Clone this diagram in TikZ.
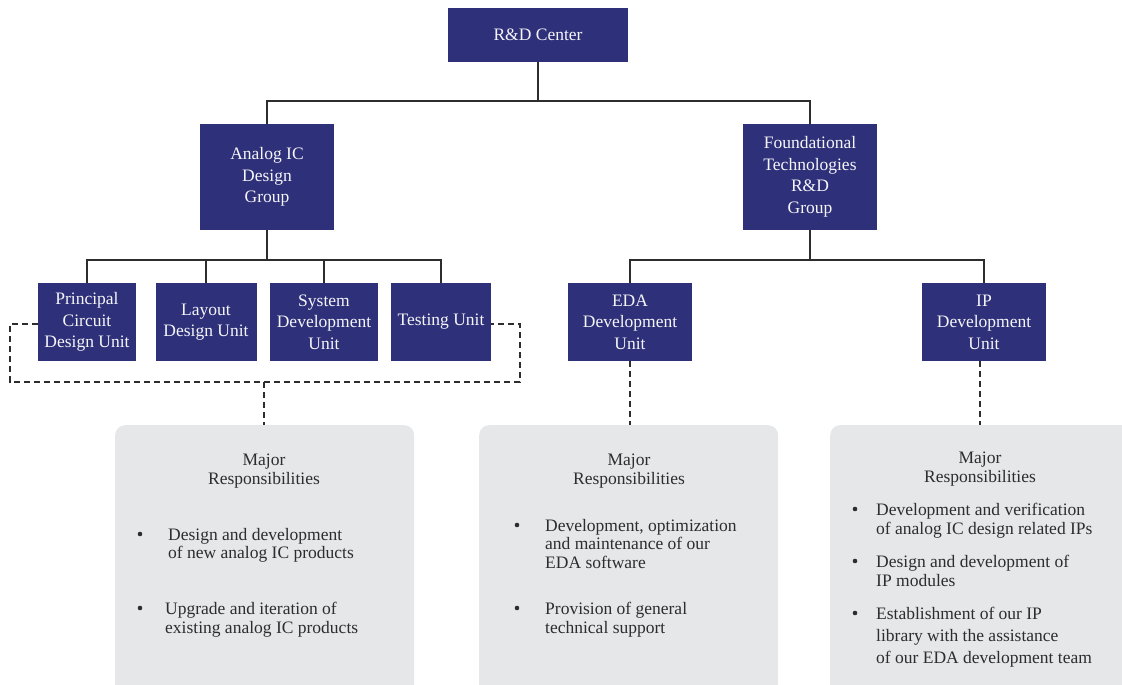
\documentclass[tikz,border=0pt]{standalone}
\usepackage{fontspec}
\setmainfont{Liberation Serif}
\usetikzlibrary{positioning}

\definecolor{navyblue}{RGB}{46,48,121}
\definecolor{panelgray}{RGB}{230,231,233}
\definecolor{inkgray}{RGB}{45,45,45}

\begin{document}
\begin{tikzpicture}[x=1pt,y=-1pt]
        \tikzset{unit/.style = {fill=navyblue,text=white!95!navyblue,align=center,inner sep=0pt,font=\fontsize{17.5}{21.5}\selectfont}}
        \tikzset{link/.style = {draw=inkgray,line width=1.4pt}}
        \tikzset{dots/.style = {draw=inkgray,line width=1.4pt,dash pattern=on 6pt off 4pt}}
        \tikzset{panel/.style = {fill=panelgray,rounded corners=10pt,minimum height=300pt,anchor=north west,inner sep=0pt}}
        \tikzset{duty/.style = {align=left,anchor=north west,inner sep=0pt,text=inkgray,font=\fontsize{17.5}{18.5}\selectfont}}
        \tikzset{dot/.style = {circle,fill=inkgray,minimum size=4.6pt,inner sep=0pt}}
        \clip (0,0) rectangle (1122,685);
        % panels
        \node[panel,minimum width=299pt] (dutyA) at (115,425) {};
        \node[panel,minimum width=299pt] (dutyB) at (479,425) {};
        \node[panel,minimum width=320pt] (dutyC) at (830,425) {};
        % org boxes
        \node[unit,minimum width=180pt,minimum height=54pt] (center) at (538,35) {R\&D Center};
        \node[unit,minimum width=134pt,minimum height=106pt] (analog) at (267,177) {Analog IC\\Design\\Group};
        \node[unit,minimum width=134pt,minimum height=106pt] (found) at (810,177) {Foundational\\Technologies\\R\&D\\Group};
        \node[unit,minimum width=98pt,minimum height=78pt] (principal) at (87,322) {Principal\\Circuit\\Design Unit};
        \node[unit,minimum width=101pt,minimum height=78pt] (layout) at (206,322) {Layout\\Design Unit};
        \node[unit,minimum width=108pt,minimum height=78pt] (system) at (324,322) {System\\Development\\Unit};
        \node[unit,minimum width=100pt,minimum height=78pt] (testing) at (441,322) {Testing Unit};
        \node[unit,minimum width=124pt,minimum height=78pt] (eda) at (630,322) {EDA\\Development\\Unit};
        \node[unit,minimum width=124pt,minimum height=78pt] (ip) at (984,322) {IP\\Development\\Unit};
        % tree lines
        \coordinate (hub) at (538,101);
        \coordinate (abus) at (267,260);
        \coordinate (fbus) at (810,260);
        \draw[link] (center) -- (hub);
        \draw[link] (hub) -| (analog.north);
        \draw[link] (hub) -| (found.north);
        \draw[link] (analog) -- (abus);
        \draw[link] (found) -- (fbus);
        \foreach \u in {principal,layout,system,testing}
                \draw[link] (abus) -| (\u.north);
        \foreach \u in {eda,ip}
                \draw[link] (fbus) -| (\u.north);
        % dashed bracket round the analog units
        \coordinate (brL) at (10,324);
        \coordinate (brR) at (520,324);
        \coordinate (brk) at (264,382);
        \draw[dots] (principal.west |- brL) -- (brL) |- (brk) -| (brR) -- (testing.east |- brR);
        \draw[dots] (brk) -- (brk |- dutyA.north);
        \draw[dots] (eda.south) -- (eda.south |- dutyB.north);
        \draw[dots] ([xshift=-4pt]ip.south) -- ([xshift=-4pt]ip.south |- dutyC.north);
        % responsibilities, analog
        \node[duty,anchor=north,align=center] (headA) at (264,454) {Major\\Responsibilities};
        \node[dot] (bulA1) at (140,534) {};
        \node[duty] (itemA1) at (168,528) {Design and development\\of new analog IC products};
        \node[dot] (bulA2) at (140,608) {};
        \node[duty] (itemA2) at (165,602) {Upgrade and iteration of\\existing analog IC products};
        % responsibilities, EDA
        \node[duty,anchor=north,align=center] (headB) at (629,454) {Major\\Responsibilities};
        \node[dot] (bulB1) at (517,525) {};
        \node[duty] (itemB1) at (545,519) {Development, optimization\\and maintenance of our\\EDA software};
        \node[dot] (bulB2) at (517,608) {};
        \node[duty] (itemB2) at (545,602) {Provision of general\\technical support};
        % responsibilities, IP
        \node[duty,anchor=north,align=center] (headC) at (980,452) {Major\\Responsibilities};
        \node[dot] (bulC1) at (855,509) {};
        \node[duty] (itemC1) at (876,503) {Development and verification\\of analog IC design related IPs};
        \node[dot] (bulC2) at (855,561) {};
        \node[duty] (itemC2) at (876,555) {Design and development of\\IP modules};
        \node[dot] (bulC3) at (855,613) {};
        \node[duty,font=\fontsize{17.5}{22}\selectfont] (itemC3) at (876,607) {Establishment of our IP\\library with the assistance\\of our EDA development team};
\end{tikzpicture}
\end{document}
